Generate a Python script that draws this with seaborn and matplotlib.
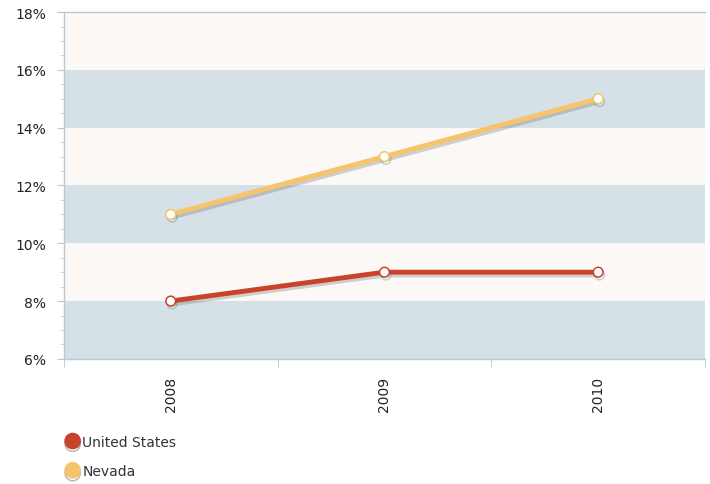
import pandas as pd
import matplotlib.pyplot as plt
import matplotlib.patheffects as pe
from matplotlib.lines import Line2D
from matplotlib.ticker import MultipleLocator
import seaborn as sns

years = ["2008", "2009", "2010"]
us_rate = [8, 9, 9]
nevada_rate = [11, 13, 15]
series_names = ["United States", "Nevada"]
colors = {"United States": "#c9432a", "Nevada": "#f6c46b"}

df = pd.DataFrame({
    "year": years * 2,
    "rate": us_rate + nevada_rate,
    "series": [series_names[0]] * 3 + [series_names[1]] * 3,
})

sns.set_style("white")
plt.rcParams["font.family"] = ["DejaVu Sans"]

fig = plt.figure(figsize=(7.1, 4.85), dpi=100)
ax = fig.add_axes([0.090, 0.258, 0.903, 0.715])

# alternating bands
for lo in range(6, 18, 2):
    ax.axhspan(lo, lo + 2, color="#d5e0e7" if (lo // 2) % 2 == 1 else "#fbf8f6", zorder=0, lw=0)

sns.lineplot(data=df, x="year", y="rate", hue="series", palette=colors, ax=ax,
             linewidth=3.5, marker="o", markersize=7, markerfacecolor="white",
             legend=False, zorder=3)

for line in ax.get_lines():
    line.set_markeredgecolor(line.get_color())
    line.set_markeredgewidth(1.1)
    line.set_path_effects([pe.SimpleLineShadow(offset=(1, -2), shadow_color="#6d6d6d", alpha=0.3),
                           pe.Normal()])

ax.set_xlim(-0.5, 2.5)
ax.set_ylim(6, 18)
ax.yaxis.set_major_locator(MultipleLocator(2))
ax.yaxis.set_minor_locator(MultipleLocator(0.5))
ax.set_yticklabels([f"{int(v)}%" for v in ax.get_yticks()])
ax.set_xticks([0, 1, 2])
ax.set_xticks([-0.5, 0.5, 1.5, 2.5], minor=True)
ax.set_xticklabels(years, rotation=90)
ax.tick_params(axis="x", which="major", length=0, pad=12, labelsize=10, labelcolor="#222222")
ax.tick_params(axis="x", which="minor", length=6, color="#b9c6d2", direction="out", bottom=True)
ax.tick_params(axis="y", which="major", length=5, color="#b9c6d2", labelsize=10,
               labelcolor="#222222", left=True, pad=8)
ax.tick_params(axis="y", which="minor", length=3, color="#c8d2dc", left=True)
ax.set_xlabel("")
ax.set_ylabel("")

for side in ["left", "bottom", "top", "right"]:
    ax.spines[side].set_color("#b9c9d8")
    ax.spines[side].set_linewidth(1)
ax.spines["right"].set_visible(False)

handles = [Line2D([], [], marker="o", linestyle="", markersize=11,
                  markerfacecolor=colors[n], markeredgecolor=colors[n],
                  path_effects=[pe.SimpleLineShadow(offset=(0, -2), alpha=0.3), pe.Normal()])
           for n in series_names]
fig.legend(handles, series_names, loc="upper left", bbox_to_anchor=(0.073, 0.127),
           frameon=False, fontsize=10, handletextpad=0.1, labelspacing=1.1,
           handlelength=1.2, labelcolor="#333333")

fig.savefig("out.png", dpi=100)
